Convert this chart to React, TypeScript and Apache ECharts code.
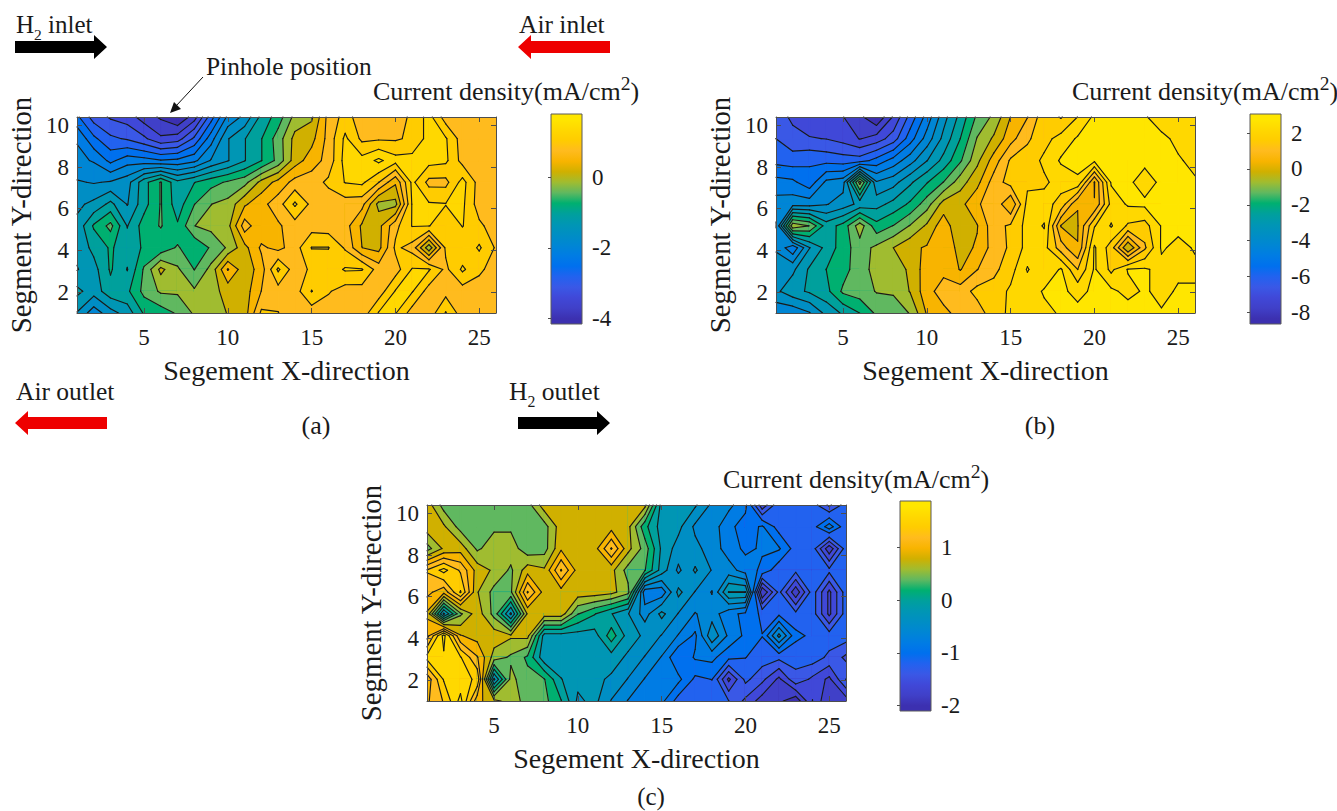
import React, { useEffect, useRef } from "react";
import * as echarts from "echarts";

const FONT = "Liberation Serif";
const TEXT_COLOR = "#1a1a1a";
const AXIS_COLOR = "#4d4d4d";
const LINE_COLOR = "#1a1a1a";

const colormap = [
  "#3c30b0", "#4040c8", "#4048d8", "#3a58e6", "#2262ef", "#0070ee", "#007ce4", "#0086d4", "#008ec4", "#0096b4",
  "#00a09c", "#00b070", "#60b860", "#a0bc30", "#d0b000", "#f8b400", "#ffbb1e", "#ffcc00", "#ffd800", "#ffe600",
];

const colsX = [1, 2, 3, 4, 5, 6, 7, 8, 9, 10, 11, 12, 13, 14, 15, 16, 17, 18, 19, 20, 21, 22, 23, 24, 25, 26];
const rowsY = [10.4, 9.36, 8.31, 7.27, 6.22, 5.18, 4.13, 3.09, 2.04, 1];
const xTicks = [5, 10, 15, 20, 25];
const yTicks = [2, 4, 6, 8, 10];

const valuesA = [
  [-2.6, -3.1, -3.3, -3.4, -3.7, -3.9, -4.15, -3.7, -2.8, -2.0, -1.7, -1.1, -0.75, -0.2, -0.05, 0.7, 1.0, 0.75, 0.75, 0.75, 0.95, 1.3, 0.74, 0.74, 0.74, 0.74],
  [-2.1, -2.6, -2.9, -3.0, -3.2, -3.5, -3.4, -2.9, -2.2, -1.5, -1.2, -0.9, -0.45, 0.1, 0.2, 0.7, 1.25, 0.82, 0.85, 0.85, 0.95, 1.3, 1.22, 0.74, 0.74, 0.74],
  [-2.0, -2.1, -2.45, -2.2, -2.25, -2.35, -2.3, -2.15, -1.75, -1.5, -1.2, -0.9, -0.5, 0.15, 0.45, 0.7, 1.3, 1.3, 1.55, 1.3, 1.3, 1.3, 1.25, 0.78, 0.74, 0.74],
  [-1.75, -1.8, -1.75, -1.6, -1.0, -0.57, -1.1, -0.9, -0.7, -0.55, -0.4, 0.1, 0.4, 0.7, 0.75, 0.95, 1.2, 1.25, 0.9, 0.35, 1.26, 0.8, 0.8, 1.3, 0.76, 0.74],
  [-1.55, -1.4, -1.1, -1.5, -1.0, -0.57, -1.05, -0.6, -0.3, -0.2, 0.25, 0.5, 0.75, 1.24, 0.8, 0.72, 0.75, 0.7, -0.1, -0.1, 1.22, 1.22, 1.2, 1.25, 0.74, 0.74],
  [-1.4, -0.85, -0.5, -1.2, -0.75, -0.57, -0.85, -0.3, -0.2, -0.1, 0.75, 0.35, 0.55, 0.75, 0.75, 0.72, 0.72, 0.25, 0.2, 0.8, 1.2, 1.2, 0.95, 1.2, 0.95, 0.74],
  [-1.4, -1.1, -0.85, -1.05, -0.85, -0.8, -0.55, -0.85, -0.55, -0.25, 0.2, 0.65, 0.5, 0.75, 1.2, 1.2, 0.85, 0.3, 0.2, 0.95, 0.78, -0.2, 0.95, 0.95, 1.23, 0.85],
  [-1.5, -1.3, -0.85, -1.2, -0.55, 0.08, -0.25, -0.6, -0.2, 0.62, 0.1, 0.45, 1.24, 0.72, 0.95, 1.0, 1.22, 1.21, 0.75, 0.75, 1.21, 1.22, 0.82, 1.24, 0.95, 0.75],
  [-1.1, -1.35, -1.0, -0.95, -0.5, -0.25, -0.25, -0.25, -0.1, 0.1, 0.15, 0.6, 0.75, 0.75, 1.2, 0.92, 0.75, 0.75, 0.72, 1.21, 1.21, 0.75, 0.78, 0.75, 0.74, 0.74],
  [-1.5, -1.95, -1.6, -1.35, -0.85, -0.75, -0.55, -0.25, -0.2, 0.02, 0.15, 0.95, 0.9, 0.7, 0.72, 0.72, 0.72, 0.7, 1.21, 1.21, 0.75, 0.7, 1.21, 0.72, 0.72, 0.72],
];

const valuesB = [
  [-6.6, -7.0, -7.2, -7.3, -7.45, -7.9, -8.6, -7.4, -6.1, -4.9, -3.6, -2.6, -1.5, -0.9, 0.15, 0.7, 1.7, 1.25, 1.9, 2.6, 2.7, 2.7, 2.55, 2.1, 2.1, 2.1],
  [-6.3, -6.7, -6.85, -6.9, -7.1, -7.5, -7.2, -6.6, -5.4, -4.3, -3.2, -2.2, -1.0, -0.35, 0.5, 1.2, 1.7, 2.1, 2.55, 2.7, 2.8, 2.8, 2.8, 2.65, 2.3, 2.1],
  [-5.9, -6.0, -5.8, -5.9, -6.0, -6.0, -5.5, -4.9, -4.2, -3.4, -2.6, -1.7, -0.6, 0.4, 1.4, 1.6, 2.0, 2.55, 2.7, 2.6, 2.7, 2.7, 2.62, 2.75, 2.55, 2.3],
  [-4.9, -5.0, -5.5, -4.4, -4.2, -0.8, -3.9, -3.6, -2.9, -2.25, -1.6, -0.7, -0.05, 1.0, 1.55, 1.75, 1.8, 2.1, 2.35, 0.1, 2.55, 2.6, 2.2, 2.6, 2.8, 2.55],
  [-4.3, -4.2, -4.2, -4.0, -3.7, -3.2, -3.0, -2.6, -2.1, -1.3, -0.2, -0.05, 0.6, 1.2, 0.15, 2.1, 2.1, 1.7, 0.15, 0.15, 2.1, 2.55, 2.6, 2.8, 2.9, 2.9],
  [-4.6, -0.6, -1.05, -2.5, -2.0, -0.7, -2.0, -1.6, -1.0, -0.35, 0.5, -0.42, 0.1, 1.1, 1.4, 2.1, 2.53, 0.1, 0.1, 1.85, 2.53, 1.8, 1.65, 2.52, 2.65, 2.8],
  [-4.0, -5.0, -3.4, -2.6, -1.9, -1.3, -0.9, -0.45, 0.0, 0.2, 0.5, -0.05, 0.2, 1.0, 1.4, 2.1, 2.1, 1.0, 0.15, 2.55, 1.6, -0.45, 1.2, 2.55, 2.3, 2.53],
  [-3.8, -3.5, -2.7, -2.2, -1.9, -1.2, -0.9, -0.6, -0.4, 0.5, 0.55, 0.1, 0.7, 1.15, 1.65, 2.53, 1.95, 2.55, 1.3, 2.55, 1.75, 2.52, 2.55, 2.3, 2.35, 2.35],
  [-3.5, -3.0, -2.7, -2.4, -1.5, -1.3, -1.0, -0.95, -0.42, 0.5, 1.0, 1.0, 1.5, 1.55, 2.0, 2.1, 2.55, 2.6, 2.3, 2.6, 2.6, 2.3, 2.55, 2.3, 2.55, 2.55],
  [-4.4, -4.4, -4.0, -3.2, -2.7, -2.2, -1.5, -1.4, -1.0, 0.2, 0.55, 0.95, 1.0, 1.65, 2.0, 2.1, 2.3, 2.55, 2.65, 2.7, 2.7, 2.75, 2.65, 2.53, 2.7, 2.7],
];

const valuesC = [
  [0.8, 0.4, 0.4, 0.4, 0.4, 0.4, 0.4, 0.8, 0.8, 0.8, 0.8, 0.8, 0.8, 0.75, -0.2, -0.25, -0.28, -0.55, -0.65, -0.85, -1.65, -1.15, -1.2, -1.2, -1.55, -1.2],
  [0.8, 0.72, 0.4, 0.4, 0.45, 0.45, 0.4, 0.4, 0.8, 0.8, 0.8, 0.8, 0.75, 0.15, -0.2, -0.25, -0.55, -0.6, -0.85, -1.0, -0.88, -1.2, -1.2, -1.2, -0.8, -1.25],
  [0.4, 0.72, 0.8, 0.45, 0.6, 0.6, 0.35, 0.4, 0.85, 0.8, 0.8, 1.3, 0.75, 0.4, -0.15, -0.4, -0.45, -0.6, -0.8, -0.95, -0.88, -0.88, -1.2, -1.2, -1.85, -1.2],
  [1.3, 1.55, 1.25, 0.8, 0.65, 0.45, 0.8, 0.72, 1.3, 0.8, 0.8, 0.75, 0.4, 0.3, -0.2, -0.55, -0.28, -0.52, -0.62, -0.8, -0.95, -1.25, -1.25, -1.2, -1.25, -1.2],
  [1.15, 0.95, 1.5, 0.7, 0.42, 0.45, 1.3, 0.8, 0.8, 0.8, 0.8, 0.75, 0.55, -0.85, -0.85, -0.25, -0.52, -0.72, -0.1, -0.1, -1.9, -1.25, -1.85, -1.2, -1.75, -1.2],
  [0.85, -0.35, 0.45, 0.8, 0.42, -0.35, 0.72, 0.8, 0.8, 0.3, 0.1, -0.1, -0.3, -0.6, -0.25, -0.52, -0.72, -0.6, -0.85, -0.95, -1.15, -1.15, -1.25, -1.2, -1.75, -1.2],
  [1.0, 1.75, 0.9, 0.8, 0.8, 0.72, 0.75, -0.2, -0.2, -0.2, -0.2, 0.2, -0.2, -0.35, -0.52, -0.72, -0.95, -0.35, -0.75, -0.95, -1.1, -0.45, -1.05, -1.15, -1.2, -1.2],
  [1.55, 1.65, 1.5, 1.1, 0.6, 0.45, 0.25, -0.25, -0.25, -0.25, -0.25, -0.2, -0.35, -0.52, -0.72, -1.1, -0.88, -0.85, -1.05, -1.1, -1.2, -1.25, -1.25, -1.2, -1.35, -1.55],
  [0.95, 1.5, 1.55, 1.45, -0.35, 0.55, 0.35, 0.3, -0.1, -0.25, -0.25, -0.35, -0.52, -0.72, -0.75, -0.85, -1.15, -1.1, -1.75, -1.25, -1.45, -1.75, -1.35, -1.55, -1.75, -1.3],
  [1.05, 1.3, 1.75, 0.95, 0.75, 0.6, 0.4, 0.35, 0.1, -0.35, -0.25, -0.52, -0.72, -0.8, -0.85, -1.2, -1.25, -1.25, -1.3, -1.55, -1.8, -1.85, -2.05, -1.5, -1.9, -1.8],
];

const ticksA = [-4, -2, 0];
const ticksB = [-8, -6, -4, -2, 0, 2];
const ticksC = [-2, -1, 0, 1];

type Pt = [number, number];

function cross(a: Pt, b: Pt, va: number, vb: number, level: number): Pt {
  const t = (level - va) / (vb - va);
  return [a[0] + (b[0] - a[0]) * t, a[1] + (b[1] - a[1]) * t];
}

function regionAbove(p: Pt[], v: number[], level: number): Pt[][] {
  const up = v.map((x) => x >= level);
  const n = up.filter(Boolean).length;
  if (n === 0) return [];
  if (n === 4) return [p];
  const center = (v[0] + v[1] + v[2] + v[3]) / 4;
  if (n === 2 && up[0] === up[2] && center < level) {
    const out: Pt[][] = [];
    for (let i = 0; i < 4; i++) {
      if (!up[i]) continue;
      const a = (i + 3) % 4;
      const b = (i + 1) % 4;
      out.push([cross(p[a], p[i], v[a], v[i], level), p[i], cross(p[i], p[b], v[i], v[b], level)]);
    }
    return out;
  }
  const poly: Pt[] = [];
  for (let i = 0; i < 4; i++) {
    const b = (i + 1) % 4;
    if (up[i]) poly.push(p[i]);
    if (up[i] !== up[b]) poly.push(cross(p[i], p[b], v[i], v[b], level));
  }
  return [poly];
}

function segments(p: Pt[], v: number[], level: number): [Pt, Pt][] {
  const up = v.map((x) => x >= level);
  const edge: (Pt | null)[] = [null, null, null, null];
  let count = 0;
  for (let i = 0; i < 4; i++) {
    const b = (i + 1) % 4;
    if (up[i] !== up[b]) {
      edge[i] = cross(p[i], p[b], v[i], v[b], level);
      count++;
    }
  }
  if (count === 2) {
    const pts = edge.filter(Boolean) as Pt[];
    return [[pts[0], pts[1]]];
  }
  if (count === 4) {
    const center = (v[0] + v[1] + v[2] + v[3]) / 4;
    const centerUp = center >= level;
    if (up[0] !== centerUp) {
      return [[edge[3] as Pt, edge[0] as Pt], [edge[1] as Pt, edge[2] as Pt]];
    }
    return [[edge[0] as Pt, edge[1] as Pt], [edge[2] as Pt, edge[3] as Pt]];
  }
  return [];
}

function cellCorners(api: any, i: number, j: number): Pt[] {
  return [
    api.coord([colsX[i], rowsY[j]]),
    api.coord([colsX[i + 1], rowsY[j]]),
    api.coord([colsX[i + 1], rowsY[j + 1]]),
    api.coord([colsX[i], rowsY[j + 1]]),
  ];
}

function cellValues(values: number[][], i: number, j: number): number[] {
  return [values[j][i], values[j][i + 1], values[j + 1][i + 1], values[j + 1][i]];
}

const cells: number[][] = [];
for (let i = 0; i < colsX.length - 1; i++) {
  for (let j = 0; j < rowsY.length - 1; j++) cells.push([i, j]);
}

function levelOf(k: number, min: number, max: number) {
  return min + ((max - min) * k) / 20;
}

function fillSeries(values: number[][], min: number, max: number, axis: number) {
  return {
    type: "custom",
    xAxisIndex: axis,
    yAxisIndex: axis,
    silent: true,
    clip: true,
    z: 2,
    data: cells,
    renderItem: (_: any, api: any) => {
      const i = api.value(0);
      const j = api.value(1);
      const p = cellCorners(api, i, j);
      const v = cellValues(values, i, j);
      const lo = Math.min(...v);
      const hi = Math.max(...v);
      const children: any[] = [];
      for (let k = 0; k < 20; k++) {
        const level = levelOf(k, min, max);
        const next = levelOf(k + 1, min, max);
        if (next <= lo && k < 19) continue;
        if (level > hi) break;
        const polys = level <= lo ? [p] : regionAbove(p, v, level);
        for (const poly of polys) {
          children.push({
            type: "polygon",
            shape: { points: poly },
            style: { fill: colormap[k], stroke: colormap[k], lineWidth: 1.2 },
          });
        }
      }
      return { type: "group", children };
    },
  };
}

function lineSeries(values: number[][], min: number, max: number, axis: number) {
  return {
    type: "custom",
    xAxisIndex: axis,
    yAxisIndex: axis,
    silent: true,
    clip: false,
    z: 3,
    data: cells,
    renderItem: (_: any, api: any) => {
      const i = api.value(0);
      const j = api.value(1);
      const p = cellCorners(api, i, j);
      const v = cellValues(values, i, j);
      const children: any[] = [];
      for (let k = 1; k < 20; k++) {
        const level = levelOf(k, min, max);
        for (const [a, b] of segments(p, v, level)) {
          children.push({
            type: "line",
            shape: { x1: a[0], y1: a[1], x2: b[0], y2: b[1] },
            style: { stroke: LINE_COLOR, lineWidth: 1.15, lineCap: "round" },
          });
        }
      }
      return { type: "group", children };
    },
  };
}

function barSeries(min: number, max: number, axis: number) {
  return {
    type: "custom",
    xAxisIndex: axis,
    yAxisIndex: axis,
    silent: true,
    clip: false,
    z: 2,
    data: [[0, min, 1, max]],
    renderItem: (_: any, api: any) => {
      const a = api.coord([api.value(0), api.value(3)]);
      const b = api.coord([api.value(2), api.value(1)]);
      const stops = colormap
        .map((color, k) => ({ offset: (19.5 - k) / 20, color }))
        .sort((x, y) => x.offset - y.offset);
      return {
        type: "rect",
        shape: { x: a[0], y: a[1], width: b[0] - a[0], height: b[1] - a[1] },
        style: {
          fill: new echarts.graphic.LinearGradient(0, 0, 0, 1, stops),
          stroke: "#5a5a5a",
          lineWidth: 1,
        },
      };
    },
  };
}

const tickLabel = { fontFamily: FONT, fontSize: 23, color: TEXT_COLOR };
const xNameStyle = { fontFamily: FONT, fontSize: 28, color: TEXT_COLOR };
const yNameStyle = { fontFamily: FONT, fontSize: 28.8, color: TEXT_COLOR };

function panel(grid: number) {
  const line = { show: true, onZero: false, lineStyle: { color: AXIS_COLOR, width: 1 } };
  const x = {
    type: "value", min: 1, max: 26, z: 5, splitLine: { show: false }, axisLine: line,
    axisTick: { show: true, inside: true, length: 5, customValues: xTicks, lineStyle: { color: AXIS_COLOR } },
  };
  const y = {
    type: "value", min: 1, max: 10.4, z: 5, splitLine: { show: false }, axisLine: line,
    axisTick: { show: true, inside: true, length: 5, customValues: yTicks, lineStyle: { color: AXIS_COLOR } },
  };
  return {
    xAxis: [
      {
        ...x, gridIndex: grid, position: "bottom",
        axisLabel: { ...tickLabel, margin: 13, customValues: xTicks },
        name: "Segement X-direction", nameLocation: "middle", nameGap: 43, nameTextStyle: xNameStyle,
      },
      { ...x, gridIndex: grid, position: "top", axisLabel: { show: false } },
    ],
    yAxis: [
      {
        ...y, gridIndex: grid, position: "left",
        axisLabel: { ...tickLabel, margin: 8, customValues: yTicks },
        name: "Segment Y-direction", nameLocation: "middle", nameGap: 42, nameTextStyle: yNameStyle,
      },
      { ...y, gridIndex: grid, position: "right", axisLabel: { show: false } },
    ],
  };
}

function colorAxes(grid: number, min: number, max: number, ticks: number[]) {
  return {
    xAxis: { type: "value", gridIndex: grid, min: 0, max: 1, show: false },
    yAxis: {
      type: "value", gridIndex: grid, min, max, position: "right", z: 5,
      splitLine: { show: false },
      axisLine: { show: false },
      axisTick: { show: true, inside: true, length: 3, customValues: ticks, lineStyle: { color: AXIS_COLOR } },
      axisLabel: { ...tickLabel, margin: 10, customValues: ticks, showMinLabel: true, showMaxLabel: true },
    },
  };
}

function richText(text: string, x: number, y: number, size: number) {
  return {
    type: "text", x, y, z: 100, silent: true,
    style: {
      text,
      fill: TEXT_COLOR,
      fontFamily: FONT,
      fontSize: size,
      align: "left",
      verticalAlign: "middle",
      rich: {
        m: { fontFamily: FONT, fontSize: size, fill: TEXT_COLOR, lineHeight: 36 },
        d: { fontFamily: FONT, fontSize: size * 0.62, fill: TEXT_COLOR, verticalAlign: "bottom" },
        u: { fontFamily: FONT, fontSize: size * 0.75, fill: TEXT_COLOR, verticalAlign: "top" },
      },
    },
  };
}

function plainText(text: string, x: number, y: number, size: number) {
  return {
    type: "text", x, y, z: 100, silent: true,
    style: { text, fill: TEXT_COLOR, fontFamily: FONT, fontSize: size, align: "center", verticalAlign: "middle" },
  };
}

function arrow(x: number, y: number, dir: 1 | -1, fill: string) {
  const tip = dir === 1 ? x + 92 : x;
  const tail = dir === 1 ? x : x + 92;
  const neck = tip - dir * 13;
  return {
    type: "polygon", z: 100, silent: true,
    shape: { points: [[tail, y - 6], [neck, y - 6], [neck, y - 12], [tip, y], [neck, y + 12], [neck, y + 6], [tail, y + 6]] },
    style: { fill },
  };
}

const DENSITY = "{m|Current density(mA/cm}{u|2}{m|)}";

export default function App() {
  const ref = useRef<HTMLDivElement>(null);
  useEffect(() => {
    const chart = echarts.init(ref.current!, undefined, { renderer: "svg" });
    const pa = panel(0);
    const pb = panel(1);
    const pc = panel(2);
    const ca = colorAxes(3, -4.15, 1.78, ticksA);
    const cb = colorAxes(4, -8.64, 3.06, ticksB);
    const cc = colorAxes(5, -2.1, 1.88, ticksC);
    chart.setOption({
      animation: false,
      backgroundColor: "#ffffff",
      grid: [
        { left: 77, top: 117, width: 419, height: 196 },
        { left: 776, top: 117, width: 419, height: 196 },
        { left: 427, top: 505, width: 419, height: 196 },
        { left: 551, top: 114, width: 31, height: 210 },
        { left: 1250, top: 114, width: 31, height: 210 },
        { left: 900, top: 501, width: 31, height: 210 },
      ],
      xAxis: [...pa.xAxis, ...pb.xAxis, ...pc.xAxis, ca.xAxis, cb.xAxis, cc.xAxis],
      yAxis: [...pa.yAxis, ...pb.yAxis, ...pc.yAxis, ca.yAxis, cb.yAxis, cc.yAxis],
      series: [
        fillSeries(valuesA, -4.15, 1.78, 0),
        lineSeries(valuesA, -4.15, 1.78, 0),
        fillSeries(valuesB, -8.64, 3.06, 2),
        lineSeries(valuesB, -8.64, 3.06, 2),
        fillSeries(valuesC, -2.1, 1.88, 4),
        lineSeries(valuesC, -2.1, 1.88, 4),
        barSeries(-4.15, 1.78, 6),
        barSeries(-8.64, 3.06, 7),
        barSeries(-2.1, 1.88, 8),
      ],
      graphic: [
        richText("{m|H}{d|2}{m| inlet}", 16, 24, 25),
        richText("{m|Air inlet}", 519, 24, 25.5),
        richText("{m|Air outlet}", 16, 391, 25.5),
        richText("{m|H}{d|2}{m| outlet}", 509, 391, 25.5),
        richText("{m|Pinhole position}", 206, 66, 25.4),
        richText(DENSITY, 373, 91, 26),
        richText(DENSITY, 1072, 91, 26),
        richText(DENSITY, 723, 479, 26),
        plainText("(a)", 316, 425, 26),
        plainText("(b)", 1040, 425, 26),
        plainText("(c)", 651, 796, 25),
        arrow(15, 47, 1, "#000000"),
        arrow(518, 47, -1, "#ee0000"),
        arrow(15, 423, -1, "#ee0000"),
        arrow(518, 423, 1, "#000000"),
        { type: "line", z: 100, silent: true, shape: { x1: 203, y1: 77, x2: 176, y2: 106 }, style: { stroke: "#111", lineWidth: 1 } },
        { type: "polygon", z: 100, silent: true, shape: { points: [[170, 113], [174, 102], [181, 109]] }, style: { fill: "#111" } },
      ],
    });
    return () => chart.dispose();
  }, []);
  return <div ref={ref} style={{ position: "absolute", left: 0, top: 0, width: 1337, height: 811 }} />;
}
